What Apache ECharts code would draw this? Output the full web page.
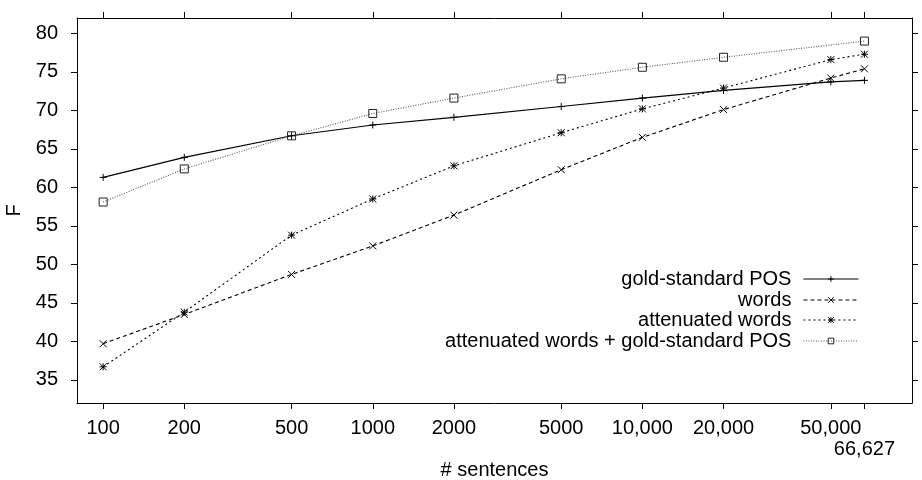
<!DOCTYPE html>
<html>
<head>
<meta charset="utf-8">
<script src="https://cdn.jsdelivr.net/npm/echarts@6/dist/echarts.min.js"></script>
<style>html,body{margin:0;padding:0;background:#fff}#c{width:922px;height:480px}</style>
</head>
<body>
<div id="c"></div>
<script>
var sentences = [100, 200, 500, 1000, 2000, 5000, 10000, 20000, 50000, 66627];
var xTickLabels = ['100', '200', '500', '1000', '2000', '5000', '10,000', '20,000', '50,000', '66,627'];
var yTicks = [35, 40, 45, 50, 55, 60, 65, 70, 75, 80];
var goldPOS = [61.3, 63.9, 66.7, 68.1, 69.1, 70.5, 71.6, 72.6, 73.7, 73.9];
var words = [39.7, 43.5, 48.7, 52.4, 56.4, 62.3, 66.5, 70.1, 74.2, 75.4];
var attenWords = [36.7, 43.8, 53.8, 58.5, 62.8, 67.1, 70.2, 72.9, 76.6, 77.3];
var attenGold = [58.1, 62.4, 66.7, 69.6, 71.6, 74.1, 75.6, 76.9, null, 79.0];
var seriesNames = ['gold-standard POS', 'words', 'attenuated words', 'attenuated words + gold-standard POS'];

function pairs(vals) {
  var out = [];
  for (var i = 0; i < sentences.length; i++) {
    if (vals[i] !== null) out.push([sentences[i], vals[i]]);
  }
  return out;
}
function xLabel(v) {
  var best = 0, bd = Infinity;
  for (var i = 0; i < sentences.length; i++) {
    var d = Math.abs(Math.log(v) - Math.log(sentences[i]));
    if (d < bd) { bd = d; best = i; }
  }
  return xTickLabels[best];
}

var FONT = 'Liberation Sans';
var symPlus = 'path://M0,5L10,5M5,0L5,10';
var symCross = 'path://M0,0L10,10M10,0L0,10';
var symStar = 'path://M0,0L10,10M10,0L0,10M0,5L10,5M5,0L5,10';
var symBox = 'path://M0,0L10,0L10,10L0,10Z';

var axisLineStyle = { color: '#000', width: 1 };
var mainLabelValues = sentences.slice(0, sentences.length - 1);
var lastLabelValues = sentences.slice(sentences.length - 1);

function xAxisDef(pos, labelValues, showLine, margin, name) {
  return {
    type: 'log', logBase: 10, min: 80, max: 100000, position: pos,
    axisLine: { show: showLine, lineStyle: axisLineStyle },
    axisTick: { show: showLine, interval: 0, inside: false, length: 6, customValues: sentences, lineStyle: axisLineStyle },
    axisLabel: { show: !!labelValues, interval: 0, hideOverlap: false, showMinLabel: true, showMaxLabel: true,
      customValues: labelValues || sentences, formatter: xLabel, fontFamily: FONT, fontSize: 20, color: '#000', margin: margin },
    splitLine: { show: false }, minorTick: { show: false },
    name: name || '', nameLocation: 'middle', nameGap: 57,
    nameTextStyle: { fontFamily: FONT, fontSize: 20, color: '#000' }
  };
}
function yAxisDef(pos, showLabel) {
  return {
    type: 'value', min: 32, max: 82, position: pos,
    axisLine: { show: true, lineStyle: axisLineStyle },
    axisTick: { show: true, interval: 0, inside: false, length: 6, customValues: yTicks, lineStyle: axisLineStyle },
    axisLabel: { show: showLabel, showMinLabel: true, showMaxLabel: true, customValues: yTicks, fontFamily: FONT, fontSize: 20, color: '#000', margin: 19 },
    splitLine: { show: false },
    name: showLabel ? 'F' : '', nameLocation: 'middle', nameRotate: 90, nameGap: 51,
    nameTextStyle: { fontFamily: FONT, fontSize: 20, color: '#000' }
  };
}
var seriesStyles = [
  { sym: symPlus, size: 7, line: '#000', mark: '#000', type: 'solid' },
  { sym: symCross, size: 7, line: '#000', mark: '#000', type: [4, 3] },
  { sym: symStar, size: 7, line: '#000', mark: '#000', type: [2, 3] },
  { sym: symBox, size: 8, line: '#555', mark: '#222', type: [1, 1.5] }
];
var seriesVals = [goldPOS, words, attenWords, attenGold];
function lineSeries(i) {
  var s = seriesStyles[i];
  return {
    name: seriesNames[i], type: 'line', data: pairs(seriesVals[i]), connectNulls: true,
    xAxisIndex: 0, yAxisIndex: 0,
    symbol: s.sym, symbolSize: s.size, showSymbol: true,
    lineStyle: { color: s.line, width: 1.1, type: s.type },
    itemStyle: { color: 'rgba(0,0,0,0)', borderColor: s.mark, borderWidth: 1 },
    emphasis: { disabled: true }, animation: false
  };
}
var legendTops = [269, 290, 310, 331];
var legends = seriesNames.map(function (n, i) {
  var s = seriesStyles[i];
  return {
    data: [n], orient: 'vertical', right: 63, top: legendTops[i], align: 'right',
    itemWidth: 55, itemHeight: 7, padding: 0, selectedMode: false,
    lineStyle: { color: s.line, width: 1.1, type: s.type },
    itemStyle: { color: 'rgba(0,0,0,0)', borderColor: s.mark, borderWidth: 1 },
    textStyle: { fontFamily: FONT, fontSize: 20, color: '#000', padding: [0, 7, 0, 0] }
  };
});

var chart = echarts.init(document.getElementById('c'), null, { renderer: 'canvas' });
chart.setOption({
  animation: false,
  backgroundColor: '#fff',
  grid: { left: 77, right: 10, top: 18, bottom: 77, containLabel: false, outerBoundsMode: 'none' },
  xAxis: [
    xAxisDef('bottom', mainLabelValues, true, 15, '# sentences'),
    xAxisDef('top', null, true, 8, ''),
    xAxisDef('bottom', lastLabelValues, false, 36, '')
  ],
  yAxis: [yAxisDef('left', true), yAxisDef('right', false)],
  legend: legends,
  series: [0, 1, 2, 3].map(lineSeries)
});
</script>
</body>
</html>
